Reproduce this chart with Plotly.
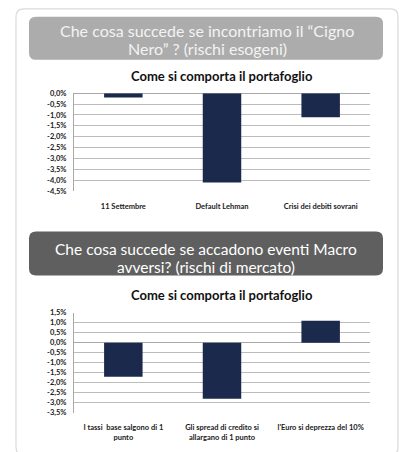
import plotly.graph_objects as go

W, H = 399, 452

# Scenario 1: exogenous shocks ("Cigno Nero")
shock_cats = ["11 Settembre", "Default Lehman", "Crisi dei debiti sovrani"]
shock_vals = [-0.2, -4.1, -1.1]
shock_ticks = [0.0, -0.5, -1.0, -1.5, -2.0, -2.5, -3.0, -3.5, -4.0, -4.5]

# Scenario 2: adverse macro events (market risks)
macro_cats = ["I tassi  base salgono di 1<br>punto",
              "Gli spread di credito si<br>allargano di 1 punto",
              "l'Euro si deprezza del 10%"]
macro_vals = [-1.7, -2.8, 1.1]
macro_ticks = [1.5, 1.0, 0.5, 0.0, -0.5, -1.0, -1.5, -2.0, -2.5, -3.0, -3.5]

BAR = "#1b2a4c"
GRID = "#bcbcbc"
FONT = "Lato"


def px(x):
    return x / W


def py(y):
    return 1 - y / H


def pct(v):
    return f"{v:.1f}%".replace(".", ",")


def rounded(x0, y0, x1, y1, r):
    X0, X1 = px(x0), px(x1)
    Y0, Y1 = py(y0), py(y1)
    rx, ry = r / W, r / H
    return (f"M {X0+rx},{Y0} L {X1-rx},{Y0} Q {X1},{Y0} {X1},{Y0-ry} "
            f"L {X1},{Y1+ry} Q {X1},{Y1} {X1-rx},{Y1} L {X0+rx},{Y1} "
            f"Q {X0},{Y1} {X0},{Y1+ry} L {X0},{Y0-ry} Q {X0},{Y0} {X0+rx},{Y0} Z")


fig = go.Figure()
fig.add_trace(go.Bar(x=shock_cats, y=shock_vals, width=0.39, marker_color=BAR,
                     marker_line_width=0, xaxis="x", yaxis="y", showlegend=False))
fig.add_trace(go.Bar(x=macro_cats, y=macro_vals, width=0.39, marker_color=BAR,
                     marker_line_width=0, xaxis="x2", yaxis="y2", showlegend=False))

tick_font = dict(family=FONT, size=7.5, color="#1a1a1a", weight="bold")

xcommon = dict(showgrid=False, showline=False, ticks="", zeroline=False,
               tickfont=tick_font, fixedrange=True)
ycommon = dict(showgrid=True, gridcolor=GRID, gridwidth=1, zeroline=True,
               zerolinecolor="#a8a8a8", zerolinewidth=1, showline=True,
               linecolor="#a8a8a8", linewidth=1, ticks="", tickfont=tick_font,
               fixedrange=True)

fig.update_layout(
    width=W, height=H, autosize=False,
    margin=dict(l=0, r=0, t=0, b=0),
    paper_bgcolor="white", plot_bgcolor="white",
    xaxis=dict(domain=[px(74), px(370)], anchor="y", ticklabelstandoff=9, **xcommon),
    yaxis=dict(domain=[py(191), py(91)], anchor="x", range=[-4.5, 0],
               tickvals=shock_ticks, ticktext=[pct(v) for v in shock_ticks],
               ticklabelstandoff=5, **ycommon),
    xaxis2=dict(domain=[px(74), px(370)], anchor="y2", ticklabelstandoff=9, **xcommon),
    yaxis2=dict(domain=[py(417), py(315)], anchor="x2", range=[-3.5, 1.5],
                tickvals=macro_ticks, ticktext=[pct(v) for v in macro_ticks],
                ticklabelstandoff=5, **ycommon),
)

shapes = [
    # outer card
    dict(type="path", xref="paper", yref="paper", path=rounded(16, 5, 398, 460, 8),
         line=dict(color="#dadada", width=1.2), fillcolor="rgba(0,0,0,0)", layer="below"),
    # header boxes
    dict(type="path", xref="paper", yref="paper", path=rounded(29, 13, 383, 57, 7),
         line=dict(width=0), fillcolor="#acacac", layer="below"),
    dict(type="path", xref="paper", yref="paper", path=rounded(29, 232, 383, 277, 7),
         line=dict(width=0), fillcolor="#5f5f5f", layer="below"),
]
fig.update_layout(shapes=shapes)


def label(text, x, y, size, color, bold=False):
    return dict(text=f"<b>{text}</b>" if bold else text,
                x=px(x), y=py(y), xref="paper", yref="paper", showarrow=False,
                xanchor="center", yanchor="middle",
                font=dict(family=FONT, size=size, color=color))


annotations = [
    label("Che cosa succede se incontriamo il \u201cCigno", 207, 27, 16, "#f3f3f3"),
    label("Nero\u201d ? (rischi esogeni)", 207, 45, 16, "#f3f3f3"),
    label("Che cosa succede se accadono eventi Macro", 206, 250, 15.5, "#ffffff"),
    label("avversi? (rischi di mercato)", 206, 268, 15.5, "#ffffff"),
    label("Come si comporta il portafoglio", 222, 73, 13, "#111111", bold=True),
    label("Come si comporta il portafoglio", 222, 297, 13, "#111111", bold=True),
]
fig.update_layout(annotations=annotations)

fig.write_html("out.html")
